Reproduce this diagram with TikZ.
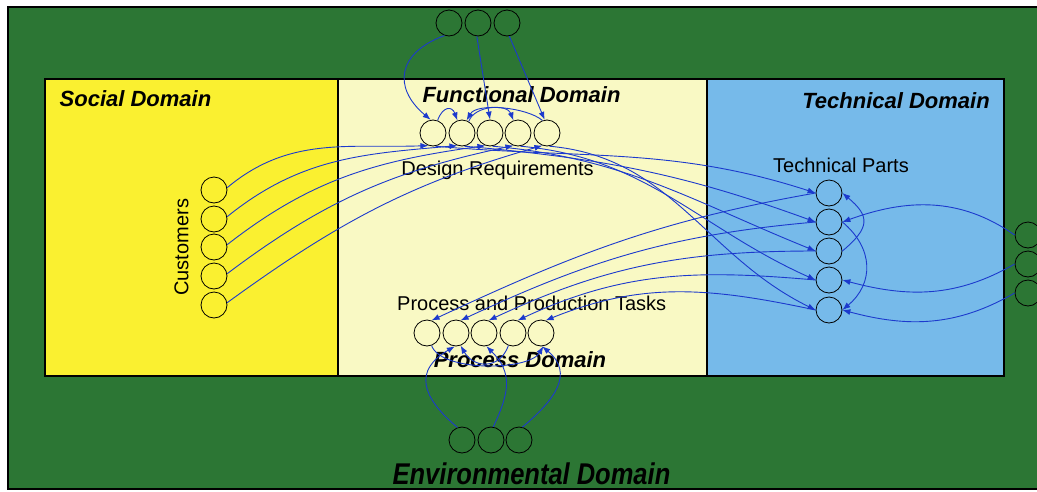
\documentclass[tikz,border=0pt]{standalone}
\usepackage{fontspec}
\setmainfont{Liberation Sans}
\usetikzlibrary{arrows.meta}
\definecolor{envgreen}{RGB}{44,118,52}
\definecolor{socyellow}{RGB}{250,240,48}
\definecolor{funcyellow}{RGB}{249,249,196}
\definecolor{techblue}{RGB}{118,186,234}
\definecolor{linkblue}{RGB}{28,58,205}
\begin{document}
\begin{tikzpicture}[x=1pt,y=1pt,
  cir/.style={circle,draw=black,line width=0.8pt,minimum size=26pt,inner sep=0pt},
  link/.style={draw=linkblue,line width=0.9pt,-{Latex[length=8pt,width=6pt]}},
  dtitle/.style={font=\fontsize{22}{22}\selectfont\bfseries\itshape,inner sep=0pt,anchor=base},
  lab/.style={font=\fontsize{20}{20}\selectfont,inner sep=0pt,anchor=base},
  dbox/.style={draw=black,line width=1.2pt}]
\useasboundingbox (0,0) rectangle (1037,-491);
\fill[white] (0,0) rectangle (1037,-491);
% environmental background
\draw[fill=envgreen,line width=1.5pt] (8,-7) rectangle (1045,-489);
% domain boxes
\draw[dbox,fill=socyellow] (45,-79) rectangle (338,-376);
\draw[dbox,fill=funcyellow] (338,-79) rectangle (707,-376);
\draw[dbox,fill=techblue] (707,-79) rectangle (1004,-376);
% titles
\node[dtitle] (tsoc) at (135.5,-106.5) {Social Domain};
\node[dtitle] (tfun) at (521.5,-102) {Functional Domain};
\node[dtitle] (ttec) at (896,-108) {Technical Domain};
\node[dtitle] (tpro) at (520,-367) {Process Domain};
\node[dtitle,font=\fontsize{30}{30}\selectfont\bfseries\itshape,xscale=0.85] (tenv) at (531.5,-484) {Environmental Domain};
% labels
\node[lab] (ldr) at (497.5,-175) {Design Requirements};
\node[lab] (ltp) at (841,-172) {Technical Parts};
\node[lab] (lpt) at (531.7,-310) {Process and Production Tasks};
\node[lab,rotate=90] (lcu) at (188.3,-247.3) {Customers};
% circles
\foreach \i/\y in {1/-190,2/-219,3/-247,4/-276,5/-305}
  \node[cir] (c\i) at (214,\y) {};
\foreach \i/\x in {1/433,2/462,3/490,4/518,5/547}
  \node[cir] (d\i) at (\x,-133) {};
\foreach \i/\y in {1/-193,2/-222,3/-251,4/-280,5/-310}
  \node[cir] (t\i) at (829,\y) {};
\foreach \i/\x in {1/427,2/456,3/484,4/513,5/541}
  \node[cir] (p\i) at (\x,-333) {};
\foreach \i/\x in {1/449,2/478,3/507}
  \node[cir] (e\i) at (\x,-23) {};
\foreach \i/\x in {1/462,2/491,3/519}
  \node[cir] (b\i) at (\x,-440) {};
\foreach \i/\y in {1/-235,2/-264,3/-293}
  \node[cir] (r\i) at (1028,\y) {};
% customers -> design requirements
\foreach \i/\o/\n in {1/40/182,2/39/185,3/38/188,4/37/192,5/36/196}
  \draw[link] (c\i.10) to[out=\o,in=\n] (d\i.250);
% design requirements -> technical parts
\foreach \i/\n in {1/162,2/160,3/158,4/156,5/154}
  \draw[link] (d\i.280) to[out=-5,in=\n] (t\i.west);
% technical parts -> process tasks
\foreach \i/\o/\n in {1/190/25,2/185/25,3/180/25,4/175/25,5/168/22}
  \draw[link] (t\i.west) to[out=\o,in=\n] (p\i.70);
% right environment -> technical parts
\draw[link] (r1.west) to[out=145,in=20] (t2.east);
\draw[link] (r2.west) to[out=210,in=-15] (t4.east);
\draw[link] (r3.west) to[out=210,in=-15] (t5.east);
% among technical parts
\draw[link] (t3.east) to[out=40,in=-40,looseness=1.6] (t1.east);
\draw[link] (t2.east) to[out=-40,in=40,looseness=1.2] (t5.east);
% top environment -> design requirements
\draw[link] (e1.250) to[out=200,in=140,looseness=1.5] (d1.100);
\draw[link] (e2.265) -- (d3.north);
\draw[link] (e3.280) -- (d5.100);
% among design requirements
\draw[link] (d1.70) to[out=70,in=110,looseness=2] (d2.110);
\draw[link] (d2.60) to[out=70,in=110] (d4.110);
\draw[link] (d5.110) to[out=140,in=60,looseness=0.7] (d2.70);
% bottom environment -> process tasks
\draw[link] (b1.110) to[out=140,in=210,looseness=1.5] (p2.265);
\draw[link] (b2.80) to[out=65,in=-45,looseness=1.2] (p3.-80);
\draw[link] (b3.75) to[out=40,in=-40,looseness=1.3] (p5.-85);
% among process tasks
\draw[link] (p1.-70) to[out=-70,in=-120,looseness=0.65] (p5.-80);
\draw[link] (p4.-110) to[out=-110,in=-60,looseness=1.4] (p2.-70);
\end{tikzpicture}
\end{document}
